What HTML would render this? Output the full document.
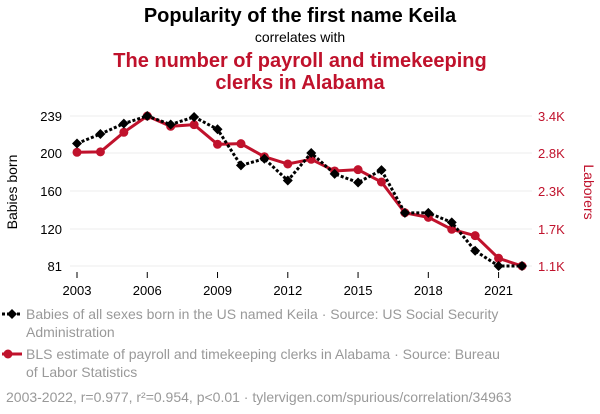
<!DOCTYPE html>
<html><head><meta charset="utf-8"><style>
body{margin:0;background:#fff;font-family:"Liberation Sans",Arial,sans-serif;}
svg{display:block}
</style></head><body>
<svg width="600" height="414">
<text x="300" y="22" text-anchor="middle" font-size="20" font-weight="bold" fill="#000">Popularity of the first name Keila</text>
<text x="300" y="42" text-anchor="middle" font-size="14" fill="#000">correlates with</text>
<text x="300" y="67" text-anchor="middle" font-size="20" font-weight="bold" fill="#c0122c">The number of payroll and timekeeping</text>
<text x="300" y="89" text-anchor="middle" font-size="20" font-weight="bold" fill="#c0122c">clerks in Alabama</text>
<g id="grid"></g><g id="axes"></g><g id="series"></g>
<text transform="translate(17,192) rotate(-90)" text-anchor="middle" font-size="14" fill="#000">Babies born</text>
<text transform="translate(584,192) rotate(90)" text-anchor="middle" font-size="14" fill="#c0122c">Laborers</text>
<g>
<line x1="2" y1="314" x2="22" y2="314" stroke="#000" stroke-width="3" stroke-dasharray="3,2"/>
<path d="M7,314 l5,-5 l5,5 l-5,5z" fill="#000"/>
<text x="26" y="319" font-size="14" fill="#999">Babies of all sexes born in the US named Keila · Source: US Social Security</text>
<text x="26" y="337" font-size="14" fill="#999">Administration</text></g>
<g>
<line x1="2" y1="354" x2="22" y2="354" stroke="#c0122c" stroke-width="3"/>
<circle cx="8" cy="354" r="4.5" fill="#c0122c"/>
<text x="26" y="359" font-size="14" fill="#999">BLS estimate of payroll and timekeeping clerks in Alabama · Source: Bureau</text>
<text x="26" y="377" font-size="14" fill="#999">of Labor Statistics</text></g>
<text x="6" y="402" font-size="14" fill="#999">2003-2022, r=0.977, r²=0.954, p&lt;0.01 · tylervigen.com/spurious/correlation/34963</text>
</svg>
<script>
const years=[2003,2004,2005,2006,2007,2008,2009,2010,2011,2012,2013,2014,2015,2016,2017,2018,2019,2020,2021,2022];
const babies=[210,220,231,239,230,238,225,187,194,171,200,178,169,182,137,137,127,97,81,81];
const clerks=[2844,2850,3150,3400,3242,3267,2966,2976,2776,2664,2736,2557,2577,2388,1917,1846,1663,1565,1218,1100];
const leftTicks=[81,120,160,200,239];
const rightTickLabels=["1.1K","1.7K","2.3K","2.8K","3.4K"];
const xTicks=[2003,2006,2009,2012,2015,2018,2021];
const NS="http://www.w3.org/2000/svg";
const x=v=>77+(v-2003)*(522-77)/19;
const yL=v=>266-(v-81)*150/158;
const yR=v=>266-(v-1100)*150/2300;
function mk(t,a,p){const e=document.createElementNS(NS,t);for(const k in a)e.setAttribute(k,a[k]);p.appendChild(e);return e;}
const grid=document.getElementById('grid'),axes=document.getElementById('axes'),ser=document.getElementById('series');
leftTicks.forEach((t,i)=>{const y=yL(t);
 const g=mk('line',{x1:70,x2:532,y1:y,y2:y,stroke:'#eee','stroke-width':1},grid);
 
 
 const l=mk('text',{x:62,y:y+5,'text-anchor':'end','font-size':13,fill:'#000'},axes);l.textContent=t;
 
 
 const r=mk('text',{x:538,y:y+5,'font-size':13,fill:'#c0122c'},axes);r.textContent=rightTickLabels[i];
 
 
});
xTicks.forEach(t=>{const xx=x(t);
 mk('line',{x1:xx,x2:xx,y1:272,y2:278,stroke:'#000','stroke-width':1},axes);
 const l=mk('text',{x:xx,y:295,'text-anchor':'middle','font-size':13,fill:'#000'},axes);l.textContent=t;
 
 
});
const rp=mk('polyline',{points:years.map((yr,i)=>x(yr)+','+yR(clerks[i])).join(' '),fill:'none',stroke:'#c0122c','stroke-width':3},ser);


years.forEach((yr,i)=>{const c=mk('circle',{cx:x(yr),cy:yR(clerks[i]),r:4.5,fill:'#c0122c'},ser);
 
 });
const bp=mk('polyline',{points:years.map((yr,i)=>x(yr)+','+yL(babies[i])).join(' '),fill:'none',stroke:'#000','stroke-width':3,'stroke-dasharray':'3,2'},ser);


years.forEach((yr,i)=>{const cx=x(yr),cy=yL(babies[i]);
 const d=mk('path',{d:`M${cx-5},${cy} L${cx},${cy-5} L${cx+5},${cy} L${cx},${cy+5}Z`,fill:'#000'},ser);
 
 });
</script>
</body></html>
